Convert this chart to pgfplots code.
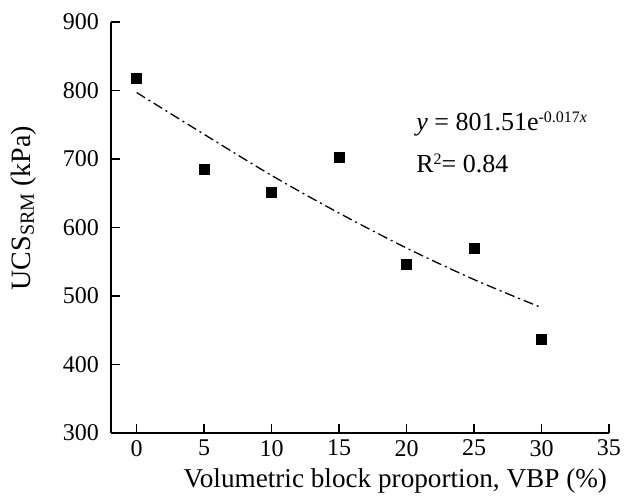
\documentclass[border=0pt]{standalone}
\usepackage{fontspec}
\setmainfont{Liberation Serif}
\usepackage{pgfplots}
\pgfplotsset{compat=1.18}

\begin{document}
\begin{tikzpicture}
\begin{axis}[
  scale only axis, width=249pt, height=205.5pt,
  xmin=-1.9, xmax=35, ymin=300, ymax=900,
  xtick={0,5,...,35}, ytick={300,400,...,900},
  axis lines=left, axis line style={-, line width=0.8pt},
  tick style={line width=0.8pt, black}, tick align=inside, major tick length=4.5pt,
  /pgf/number format/assume math mode=true,
  tick label style={font=\fontsize{12}{14}\selectfont},
  yticklabel style={xshift=-2.5pt},
  xlabel={Volumetric block proportion, VBP (\%)},
  ylabel={UCS{\fontsize{10}{12}\selectfont\raisebox{-0.35ex}{SRM}} (kPa)},
  xlabel style={font=\fontsize{13.6}{16}\selectfont,
    at={(axis description cs:0.571,0)}, anchor=center, yshift=-24pt},
  ylabel style={font=\fontsize{14}{16}\selectfont,
    at={(axis description cs:0,0.547)}, anchor=center, yshift=43.5pt},
  clip=false,
]
\addplot[only marks, mark=square*, mark size=2.5pt, black] coordinates {
  (0,817) (5,685) (10,651) (15,702) (20,546) (25,570) (30,436)
};
\addplot[black, line width=0.65pt, smooth,
  dash pattern=on 5pt off 2pt on 1pt off 2pt] coordinates {
  (0,797) (5,736) (10,676) (15,621) (20,570) (25,524) (30,483)
};
\node[anchor=west, font=\fontsize{13}{15}\selectfont] at (axis cs:20.2,751)
  {\textit{y} = 801.51e{\fontsize{8}{9}\selectfont\raisebox{1.1ex}{-0.017\textit{x}}}};
\node[anchor=west, font=\fontsize{13}{15}\selectfont] at (axis cs:20.2,693)
  {R{\fontsize{8}{9}\selectfont\raisebox{1.1ex}{2}}= 0.84};
\path (rel axis cs:0,0) ++(-55.5pt,-31.5pt) rectangle ++(322pt,248pt);
\end{axis}
\end{tikzpicture}
\end{document}
